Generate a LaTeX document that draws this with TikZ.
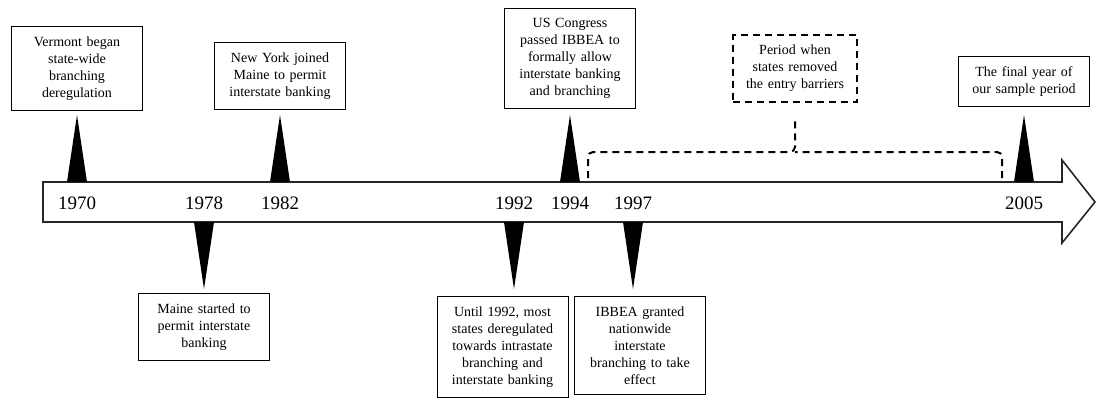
\documentclass[tikz,border=0pt]{standalone}
\usepackage{fontspec}
\setmainfont{Liberation Serif}
\usetikzlibrary{positioning}
\tikzset{
    %Define style for the timeline arrow
    timeline/.style={
           draw=black!85, line width=1.6pt,
           fill=white, line join=miter},
    %Define style for the years
    year/.style={
           inner sep=0pt,
           font=\fontsize{19}{19}\selectfont},
    %Define style for boxes
    event/.style={
           rectangle,
           draw=black, line width=0.8pt,
           fill=white,
           text width=115pt,
           inner xsep=8pt,
           inner ysep=10pt,
           align=center,
           font=\fontsize{14}{17}\selectfont},
    period/.style={
           event,
           line width=2pt,
           dash pattern=on 7pt off 5pt,
           text width=108pt},
    % Define spike and brace style
    spike/.style={fill=black},
    brace/.style={
           line width=2pt,
           dash pattern=on 7pt off 5pt,
           rounded corners=5pt}
}
\begin{document}
\begin{tikzpicture}[x=1pt,y=-1pt,node distance=5pt]
\useasboundingbox (0,0) rectangle (1096,400);
\draw[timeline] (43,182) -- (1062,182) -- (1062,160) -- (1095,202)
    -- (1062,243) -- (1062,222) -- (43,222) -- cycle;
\foreach \yr/\px in {1970/77,1978/204,1982/280,1992/514,1994/570,1997/633,2005/1024}
    \node[year] (y\yr) at (\px,203) {\yr};
% spikes up and down
\foreach \yr in {1970,1982,1994,2005}{
    \coordinate (t\yr) at (y\yr |- 0,115);
    \fill[spike] (t\yr) -- ++(-10,67) -- ++(20,0) -- cycle;}
\foreach \yr in {1978,1992,1997}{
    \coordinate (b\yr) at (y\yr |- 0,289);
    \fill[spike] (b\yr) -- ++(-10,-67) -- ++(20,0) -- cycle;}
\node[event, above=4pt of t1970](vermont){Vermont began\\ state-wide\\ branching\\ deregulation};
\node[event, above=5pt of t1982](newyork){New York joined\\ Maine to permit\\ interstate banking};
\node[event, above=6pt of t1994](congress){US Congress\\ passed IBBEA to\\ formally allow\\ interstate banking\\ and branching};
\node[event, above=8pt of t2005](final){The final year of\\ our sample period};
\node[event, below=4pt of b1978](maine){Maine started to\\ permit interstate\\ banking};
\node[event, below=7pt of b1992, xshift=-11.5pt](until){Until 1992, most\\ states deregulated\\ towards intrastate\\ branching and\\ interstate banking};
\node[event, below=7pt of b1997, xshift=7pt](ibbea){IBBEA granted\\ nationwide\\ interstate\\ branching to take\\ effect};
% brace for the period
\coordinate (brL) at (588,178);
\coordinate (brR) at (1002,178);
\coordinate (brTip) at (795,117);
\draw[brace] (brL) |- (brTip |- 0,152) -- (brTip);
\draw[brace] (brR) |- (brTip |- 0,152);
\node[period, above=14pt of brTip](period){Period when\\ states removed\\ the entry barriers};
\end{tikzpicture}
\end{document}
